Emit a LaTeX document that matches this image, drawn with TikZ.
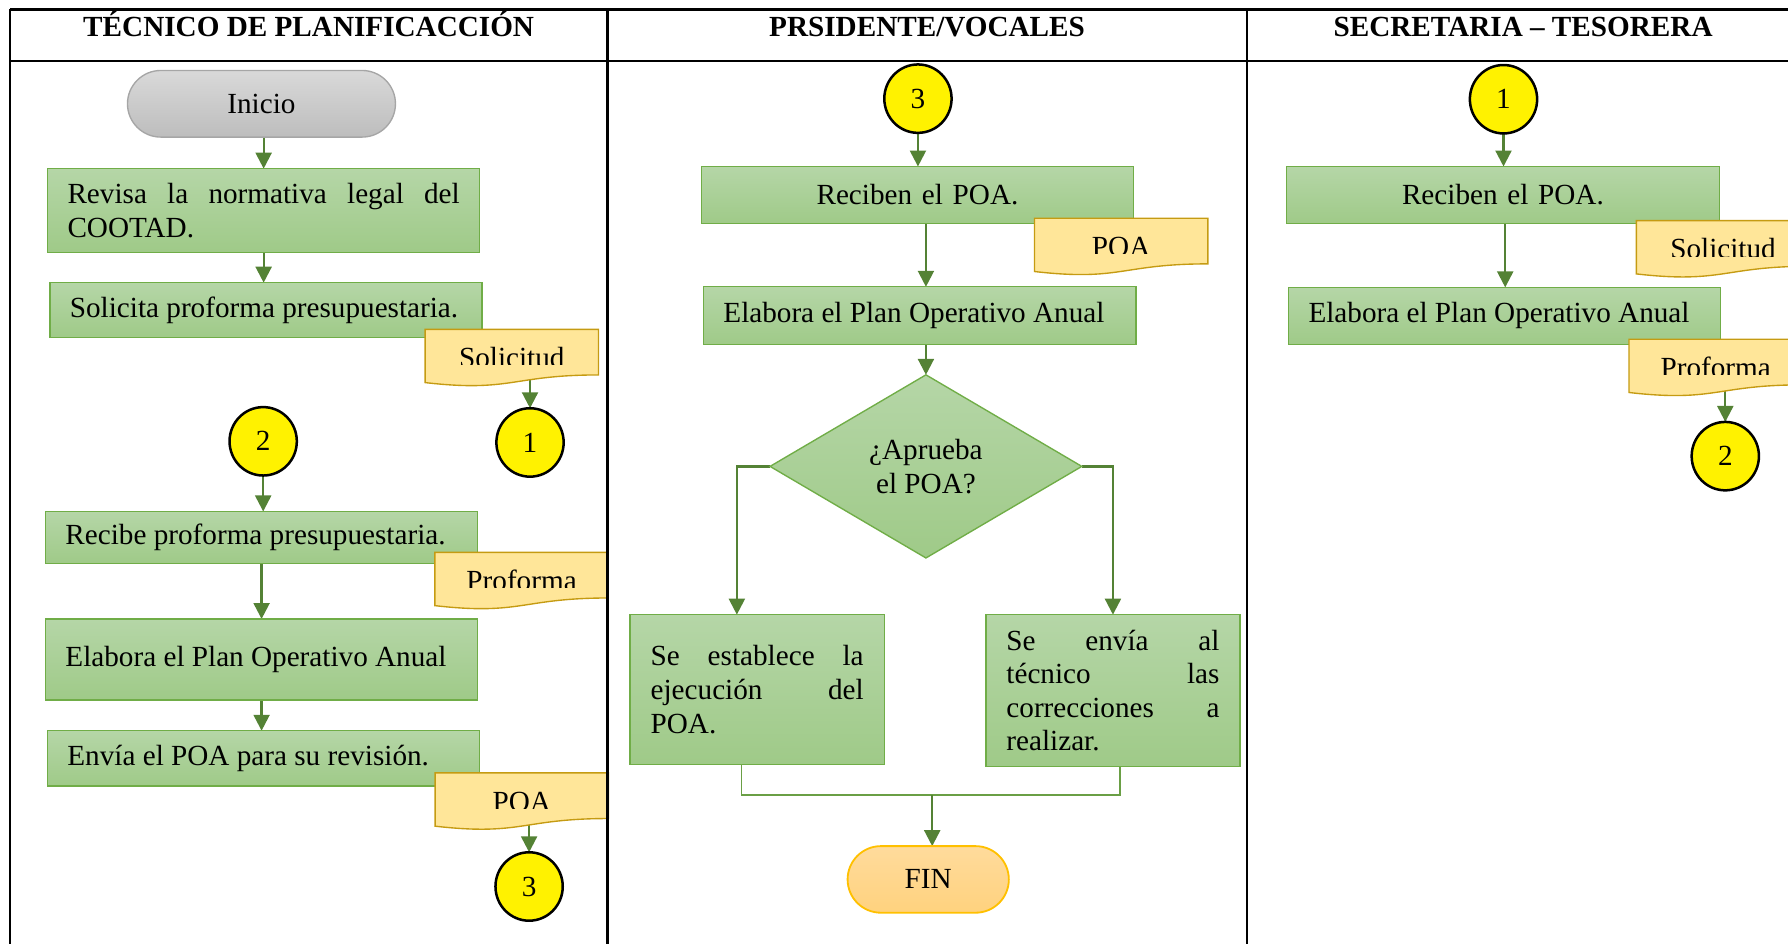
\documentclass[tikz,border=0pt]{standalone}
\usepackage{fontspec}
\setmainfont{Liberation Serif}
\usetikzlibrary{shapes.geometric,shapes.misc,arrows.meta,backgrounds}

\definecolor{boxtop}{HTML}{B5D6A7}
\definecolor{boxbot}{HTML}{9FCA88}
\definecolor{boxline}{HTML}{70AD47}
\definecolor{flowgreen}{HTML}{548235}
\definecolor{joingreen}{HTML}{6A9F45}
\definecolor{docfill}{HTML}{FFE699}
\definecolor{docline}{HTML}{C59B12}
\definecolor{termtop}{HTML}{D9D9D9}
\definecolor{termbot}{HTML}{BDBDBD}
\definecolor{termline}{HTML}{A6A6A6}
\definecolor{fintop}{HTML}{FFDB9C}
\definecolor{finbot}{HTML}{FFD27E}
\definecolor{finline}{HTML}{FFC000}

\tikzset{
  base/.style={font=\fontsize{12.8}{14.7}\selectfont, inner sep=0pt, outer sep=0pt},
  head/.style={base, font=\fontsize{12.8}{14.7}\selectfont\bfseries, anchor=base},
  proc/.style={base, rectangle, draw=boxline, line width=0.6pt,
    top color=boxtop, bottom color=boxbot, align=justify},
  term/.style={base, rounded rectangle, draw=termline, line width=0.6pt,
    top color=termtop, bottom color=termbot, minimum width=117.5pt, minimum height=29.2pt},
  finterm/.style={base, rounded rectangle, draw=finline, line width=0.8pt,
    top color=fintop, bottom color=finbot, minimum width=70.7pt, minimum height=29.2pt},
  conn/.style={base, ellipse, draw=black, line width=1.1pt, fill=yellow,
    minimum width=29.5pt, minimum height=30pt},
  decision/.style={base, diamond, aspect=1.7, draw=boxline, line width=0.6pt,
    top color=boxtop, bottom color=boxbot, minimum width=136.7pt,
    minimum height=80.3pt, align=center},
  docshape/.style={fill=docfill, draw=docline, line width=0.6pt},
  docbox/.style={base, minimum width=76pt, minimum height=25pt},
  flow/.style={draw=flowgreen, line width=1pt, -{Triangle[length=7pt,width=7pt]}},
  joinline/.style={draw=joingreen, line width=0.55pt},
  grid/.style={draw=black, line width=1pt}
}

% document symbol with a wavy bottom edge; its label is cut just above the baseline
\newcommand{\docnode}[4]{%
  \begin{scope}[shift={(#2,#3)}]
    \path[docshape] (0,0) -- (152,0) -- (152,40)
      .. controls (76,40) and (76,55.4) .. (0,46.7) -- cycle;
    \node[docbox] (#1) at (76,25) {};
    \begin{scope}
      \clip (0,0) rectangle (152,31);
      \node[base, anchor=base] (#1text) at (76,33.5) {#4};
    \end{scope}
  \end{scope}}

\begin{document}
\hyphenpenalty=10000 \exhyphenpenalty=10000 \tolerance=9999
\begin{tikzpicture}[x=0.5pt, y=-0.5pt]
\useasboundingbox (0,0) rectangle (1568,827);
\clip (0,0) rectangle (1568,827);

% ---------- lane 1: técnico de planificación ----------
\node[term] (ini) at (229.3,91) {Inicio};
\node[proc, text width=172pt, minimum width=189.3pt, minimum height=36.7pt]
  (L1) at (231.2,184.6) {Revisa la normativa legal del COOTAD.};
\node[proc, text width=172pt, minimum width=189.3pt, minimum height=24pt]
  (L2) at (233.3,271.9) {Solicita proforma presupuestaria.};
\docnode{dA}{372.8}{288.8}{Solicitud}
\node[conn] (c1L) at (464.8,388) {1};
\node[conn] (c2L) at (230.8,387) {2};
\node[proc, text width=172pt, minimum width=189.5pt, minimum height=22.8pt]
  (L3) at (229.4,471.3) {Recibe proforma presupuestaria.};
\docnode{dB}{381.4}{484.4}{Proforma}
\node[proc, text width=172pt, minimum width=189.5pt, minimum height=35.5pt]
  (L4) at (229.4,578.3) {Elabora el Plan Operativo Anual};
\node[proc, text width=172pt, minimum width=189.5pt, minimum height=24.3pt]
  (L5) at (231.1,665.1) {Envía el POA para su revisión.};
\docnode{dC}{381.6}{677.8}{POA}
\node[conn] (c3L) at (464,777.4) {3};

% ---------- lane 2: presidente / vocales ----------
\node[conn] (c3M) at (805,86.5) {3};
\node[proc, align=center, text width=172pt, minimum width=189.3pt, minimum height=25pt]
  (M1) at (804.6,171) {Reciben el POA.};
\docnode{dD}{907.2}{191.4}{POA}
\node[proc, text width=172pt, minimum width=189.7pt, minimum height=25.4pt]
  (M2) at (806.4,276.9) {Elabora el Plan Operativo Anual};
\node[decision] (dec) at (812,409) {¿Aprueba\\el POA?};
\node[proc, text width=93.4pt, minimum width=111.6pt, minimum height=65.7pt]
  (M3) at (664,604.7) {Se establece la\linebreak ejecución del\linebreak POA.};
\node[proc, text width=93.4pt, minimum width=111.3pt, minimum height=66.7pt]
  (M4) at (976,605.7) {Se envía al\linebreak técnico las\linebreak correcciones a\linebreak realizar.};
\node[finterm] (fin) at (814,771.2) {FIN};
\coordinate (J) at (817.5,697.2);

% ---------- lane 3: secretaria - tesorera ----------
\node[conn] (c1R) at (1318.5,87) {1};
\node[proc, align=center, text width=172pt, minimum width=190pt, minimum height=25pt]
  (R1) at (1318,171) {Reciben el POA.};
\docnode{dE}{1435}{193.5}{Solicitud}
\node[proc, text width=172pt, minimum width=189.5pt, minimum height=25pt]
  (R2) at (1319.5,277) {Elabora el Plan Operativo Anual};
\docnode{dF}{1428.6}{297.5}{Proforma}
\node[conn] (c2R) at (1513,400) {2};

% ---------- connectors ----------
\begin{scope}[on background layer]
  \draw[flow] (L1.north |- ini.south) -- (L1.north);
  \draw[flow] (L1.south) -- (L1.south |- L2.north);
  \draw[flow] (dA.center -| c1L.north) -- (c1L.north);
  \draw[flow] (c2L.south) -- (c2L.south |- L3.north);
  \draw[flow] (L3.south) -- (L3.south |- L4.north);
  \draw[flow] (L4.south) -- (L4.south |- L5.north);
  \draw[flow] (dC.center -| c3L.north) -- (c3L.north);

  \draw[flow] (c3M.south) -- (c3M.south |- M1.north);
  \draw[flow] (M1.south -| dec.north) -- (M2.north -| dec.north);
  \draw[flow] (M2.south -| dec.north) -- (dec.north);
  \draw[flow] (dec.west) -| ([xshift=-8.9pt]M3.north);
  \draw[flow] (dec.east) -| (M4.north);
  \draw[joinline] ([xshift=-6.9pt]M3.south) |- (J) -| ([xshift=3.05pt]M4.south);
  \draw[flow] (J) -- (J |- fin.north);

  \draw[flow] (c1R.south) -- (c1R.south |- R1.north);
  \draw[flow] ([xshift=1pt]R1.south) -- ([xshift=1pt]R1.south |- R2.north);
  \draw[flow] (dF.center -| c2R.north) -- (c2R.north);
\end{scope}

% ---------- swimlane table ----------
\draw[grid] (8.7,8.3) -- (1580,8.3);
\draw[grid] (8.7,53.5) -- (1580,53.5);
\draw[grid] (8.7,8.3) -- (8.7,840);
\draw[grid] (532.8,8.3) -- (532.8,840);
\draw[grid] (1093.4,8.3) -- (1093.4,840);

\node[head] (h1) at (270.7,31.6) {TÉCNICO DE PLANIFICACCIÓN};
\node[head] (h2) at (813,31.6) {PRSIDENTE/VOCALES};
\node[head] (h3) at (1335.7,31.6) {SECRETARIA – TESORERA};
\end{tikzpicture}
\end{document}
